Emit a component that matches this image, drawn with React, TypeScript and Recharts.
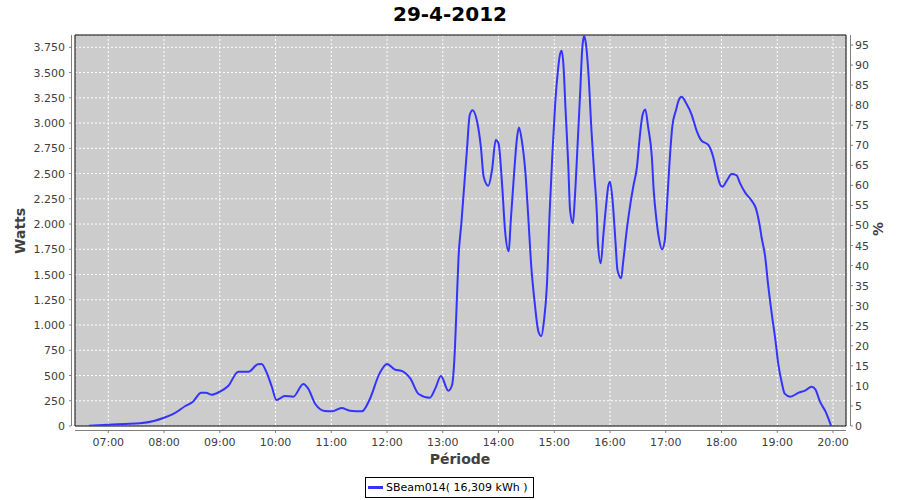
import { CartesianGrid, Line, LineChart, ReferenceArea, XAxis, YAxis } from "recharts";

// readings of the day (local time, watts)
const times = [
  "06:39", "07:00", "07:18", "07:34", "07:49", "08:00", "08:10", "08:23", "08:31", "08:40",
  "08:45", "08:51", "09:00", "09:09", "09:20", "09:31", "09:41", "09:45", "09:50", "09:56",
  "10:01", "10:10", "10:19", "10:30", "10:35", "10:43", "10:53", "11:01", "11:11", "11:20",
  "11:33", "11:41", "11:52", "12:00", "12:08", "12:17", "12:25", "12:34", "12:46", "12:52",
  "12:58", "13:06", "13:10", "13:13", "13:15", "13:17", "13:20", "13:23", "13:26", "13:29",
  "13:32", "13:37", "13:41", "13:44", "13:49", "13:53", "13:57", "14:00", "14:04", "14:07",
  "14:11", "14:13", "14:17", "14:20", "14:22", "14:25", "14:29", "14:32", "14:35", "14:39",
  "14:43", "14:46", "14:49", "14:52", "14:55", "14:58", "15:01", "15:04", "15:06", "15:08",
  "15:10", "15:12", "15:15", "15:17", "15:20", "15:22", "15:25", "15:28", "15:30", "15:32",
  "15:34", "15:37", "15:40", "15:43", "15:46", "15:47", "15:50", "15:53", "15:56", "15:58",
  "16:00", "16:03", "16:06", "16:08", "16:12", "16:14", "16:18", "16:22", "16:25", "16:29",
  "16:32", "16:35", "16:38", "16:41", "16:45", "16:47", "16:50", "16:53", "16:56", "16:59",
  "17:01", "17:04", "17:07", "17:11", "17:14", "17:17", "17:22", "17:28", "17:33", "17:38",
  "17:46", "17:51", "17:55", "17:58", "18:01", "18:06", "18:11", "18:16", "18:20", "18:26",
  "18:32", "18:37", "18:41", "18:43", "18:47", "18:50", "18:54", "18:58", "19:01", "19:05",
  "19:08", "19:14", "19:23", "19:30", "19:37", "19:41", "19:46", "19:52", "19:58",
];

const watts = [
  3, 13, 20, 27, 50, 82, 119, 198, 240, 330,
  330, 310, 340, 396, 538, 538, 611, 613, 538, 389,
  257, 297, 290, 416, 373, 215, 149, 145, 178, 152,
  145, 257, 521, 614, 561, 541, 472, 317, 280, 373,
  495, 349, 406, 752, 1215, 1676, 2007, 2369, 2732, 3079,
  3128, 3013, 2765, 2468, 2379, 2534, 2831, 2798, 2369, 1940,
  1730, 2007, 2534, 2864, 2957, 2831, 2502, 2072, 1611, 1215,
  934, 891, 1049, 1379, 2106, 2700, 3195, 3525, 3673, 3716,
  3558, 3162, 2601, 2139, 2007, 2237, 2765, 3326, 3722, 3861,
  3789, 3458, 2930, 2502, 2072, 1809, 1611, 1908, 2205, 2369,
  2419, 2205, 1809, 1544, 1462, 1611, 1940, 2205, 2369, 2567,
  2864, 3079, 3135, 2963, 2666, 2336, 2039, 1841, 1749, 1841,
  2139, 2601, 2963, 3128, 3227, 3260, 3195, 3079, 2930, 2831,
  2782, 2666, 2502, 2403, 2369, 2435, 2495, 2485, 2403, 2304,
  2237, 2155, 1990, 1874, 1676, 1412, 1116, 851, 621, 423,
  320, 290, 330, 350, 389, 363, 241, 142, 0,
];

const hourTicks = [7, 8, 9, 10, 11, 12, 13, 14, 15, 16, 17, 18, 19, 20];
const wattTicks = [0, 250, 500, 750, 1000, 1250, 1500, 1750, 2000, 2250, 2500, 2750, 3000, 3250, 3500, 3750];
const pctTicks = [0, 5, 10, 15, 20, 25, 30, 35, 40, 45, 50, 55, 60, 65, 70, 75, 80, 85, 90, 95];

const title = "29-4-2012";
const seriesLabel = "SBeam014( 16,309 kWh )";

const X_DOMAIN: [number, number] = [6.403, 20.233];
const W_MAX = 3872;
const PCT_MAX = 97.5;

// plot rectangle in page pixels
const PLOT = { left: 75, top: 35, right: 846, bottom: 426 };
const AXIS_GREY = "#808080";
const LABEL_GREY = "#404040";
const FONT = "'DejaVu Sans', sans-serif";

const toHours = (t: string) => {
  const [h, m] = t.split(":").map(Number);
  return h + m / 60;
};

const data = times.map((t, i) => ({ t: toHours(t), w: watts[i] }));

const fmtWatts = (v: number) =>
  v >= 1000 ? `${Math.floor(v / 1000)}.${String(v % 1000).padStart(3, "0")}` : String(v);

const LeftTick = (props: any) => {
  const { y, payload, index } = props;
  return (
    <g>
      {index === 0 && (
        <line x1={71.5} y1={PLOT.top} x2={71.5} y2={PLOT.bottom} stroke={AXIS_GREY} />
      )}
      <line x1={69} y1={y} x2={71} y2={y} stroke={AXIS_GREY} />
      <text x={65} y={y + 4} textAnchor="end" fontSize={11} fontFamily={FONT} fill={LABEL_GREY}>
        {fmtWatts(payload.value)}
      </text>
    </g>
  );
};

const RightTick = (props: any) => {
  const { y, payload, index } = props;
  return (
    <g>
      {index === 0 && (
        <line x1={850.5} y1={PLOT.top} x2={850.5} y2={PLOT.bottom} stroke={AXIS_GREY} />
      )}
      <line x1={851} y1={y} x2={853} y2={y} stroke={AXIS_GREY} />
      <text x={855} y={y + 4} textAnchor="start" fontSize={11} fontFamily={FONT} fill={LABEL_GREY}>
        {payload.value}
      </text>
    </g>
  );
};

const BottomTick = (props: any) => {
  const { x, payload, index } = props;
  return (
    <g>
      {index === 0 && (
        <line x1={PLOT.left} y1={430.5} x2={PLOT.right} y2={430.5} stroke={AXIS_GREY} />
      )}
      <line x1={x} y1={431} x2={x} y2={433} stroke={AXIS_GREY} />
      <text x={x} y={446} textAnchor="middle" fontSize={11} fontFamily={FONT} fill={LABEL_GREY}>
        {`${String(payload.value).padStart(2, "0")}:00`}
      </text>
    </g>
  );
};

export default function App() {
  return (
    <div
      style={{
        position: "absolute",
        left: 0,
        top: 0,
        width: 900,
        height: 500,
        background: "#fff",
        fontFamily: FONT,
      }}
    >
      <div
        style={{
          position: "absolute",
          left: 0,
          width: 900,
          top: 2,
          textAlign: "center",
          fontSize: 20,
          fontWeight: "bold",
          color: "#000",
        }}
      >
        {title}
      </div>

      <LineChart
        width={900}
        height={500}
        data={data}
        margin={{ top: PLOT.top, bottom: 44, left: 15, right: 14 }}
      >
        <CartesianGrid
          xAxisId="x"
          yAxisId="left"
          stroke="#ffffff"
          strokeDasharray="2 2"
          fill="#cccccc"
          fillOpacity={1}
        />
        <XAxis
          xAxisId="x"
          dataKey="t"
          type="number"
          domain={X_DOMAIN}
          ticks={hourTicks}
          interval={0}
          allowDataOverflow
          height={30}
          axisLine={false}
          tickLine={false}
          tick={BottomTick}
        />
        <YAxis
          yAxisId="left"
          orientation="left"
          type="number"
          domain={[0, W_MAX]}
          ticks={wattTicks}
          interval={0}
          allowDataOverflow
          width={60}
          axisLine={false}
          tickLine={false}
          tick={LeftTick}
        />
        <YAxis
          yAxisId="right"
          orientation="right"
          type="number"
          domain={[0, PCT_MAX]}
          ticks={pctTicks}
          interval={0}
          allowDataOverflow
          width={40}
          axisLine={false}
          tickLine={false}
          tick={RightTick}
        />
        <ReferenceArea
          xAxisId="x"
          yAxisId="left"
          x1={X_DOMAIN[0]}
          x2={X_DOMAIN[1]}
          y1={0}
          y2={W_MAX}
          fill="none"
          stroke="#000"
          strokeWidth={1}
        />
        <Line
          xAxisId="x"
          yAxisId="left"
          type="monotone"
          dataKey="w"
          stroke="#3333ff"
          strokeWidth={2}
          dot={false}
          isAnimationActive={false}
        />
      </LineChart>

      <div
        style={{
          position: "absolute",
          left: 0,
          top: 222,
          width: 44,
          height: 20,
          transform: "rotate(-90deg)",
          textAlign: "center",
          fontSize: 14,
          fontWeight: "bold",
          color: LABEL_GREY,
        }}
      >
        Watts
      </div>
      <div
        style={{
          position: "absolute",
          left: 862,
          top: 219,
          width: 36,
          height: 20,
          transform: "rotate(-90deg)",
          textAlign: "center",
          fontSize: 14,
          fontWeight: "bold",
          color: LABEL_GREY,
        }}
      >
        %
      </div>
      <div
        style={{
          position: "absolute",
          left: 360,
          width: 200,
          top: 451,
          textAlign: "center",
          fontSize: 14,
          fontWeight: "bold",
          color: LABEL_GREY,
        }}
      >
        Période
      </div>

      <div
        style={{
          position: "absolute",
          left: 365,
          top: 477,
          width: 169,
          height: 21,
          border: "1px solid #000",
          boxSizing: "border-box",
          display: "flex",
          alignItems: "center",
          fontSize: 11,
          color: "#000",
        }}
      >
        <span
          style={{
            display: "inline-block",
            width: 15,
            height: 3,
            background: "#3333ff",
            marginLeft: 2,
            marginRight: 3,
          }}
        />
        <span>{seriesLabel}</span>
      </div>
    </div>
  );
}
